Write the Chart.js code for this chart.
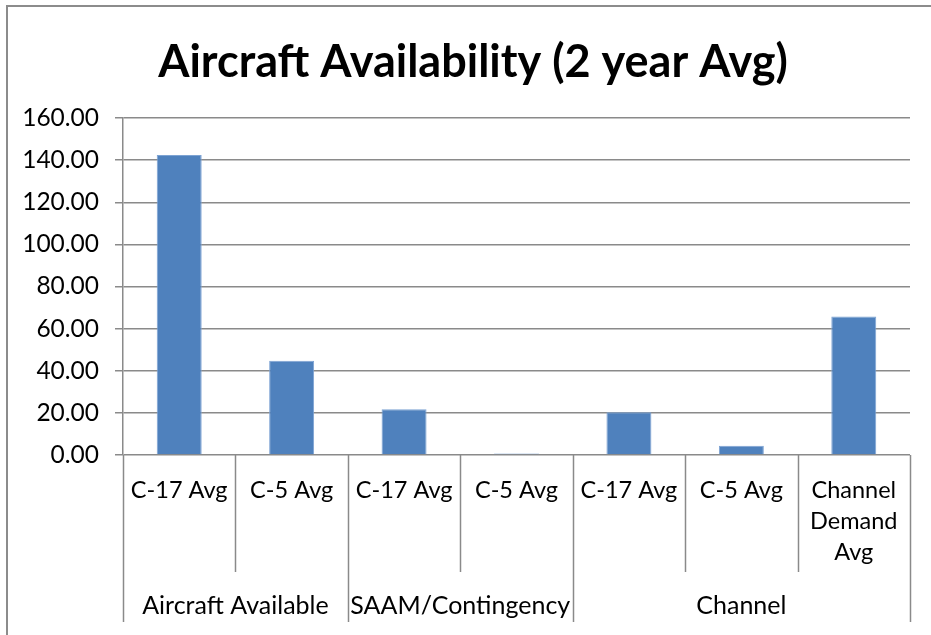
<!DOCTYPE html>
<html>
<head>
<meta charset="utf-8">
<script src="https://cdn.jsdelivr.net/npm/chart.js@4"></script>
<style>
  html, body { margin: 0; padding: 0; background: #fff; overflow: hidden; }
  #wrap { width: 931px; height: 635px; }
</style>
</head>
<body>
<div id="wrap"><canvas id="chart" width="931" height="635"></canvas></div>
<script>
// Datos del gráfico
const chartTitle = 'Aircraft Availability (2 year Avg)';
const groupLabels = ['Aircraft Available', 'SAAM/Contingency', 'Channel'];
const groupSizes = [2, 2, 3];
const barLabels = ['C-17 Avg', 'C-5 Avg', 'C-17 Avg', 'C-5 Avg', 'C-17 Avg', 'C-5 Avg', ['Channel', 'Demand', 'Avg']];
const availability = [142.4, 44.7, 21.7, 0.7, 20.3, 4.4, 65.8];
const yMin = 0;
const yMax = 160;
const yStep = 20;

const gridColor = '#8a8a8a';
const fontFamily = 'Lato, "Open Sans", sans-serif';

// Marco, título, separadores y etiquetas de grupo del eje X
const groupAxisPlugin = {
    id: 'groupAxis',
    beforeDraw(chart) {
        const ctx = chart.ctx;
        ctx.save();
        ctx.strokeStyle = '#8c8c8c';
        ctx.lineWidth = 2;
        ctx.beginPath();
        ctx.moveTo(7, 640);
        ctx.lineTo(7, 6);
        ctx.lineTo(935, 6);
        ctx.stroke();
        ctx.restore();
    },
    afterDraw(chart) {
        const ctx = chart.ctx;
        const x = chart.scales.x;
        const bottom = chart.chartArea.bottom;
        const half = (x.getPixelForValue(1) - x.getPixelForValue(0)) / 2;

        // título
        ctx.save();
        ctx.fillStyle = '#000';
        ctx.font = 'bold 45px ' + fontFamily;
        ctx.textAlign = 'center';
        ctx.textBaseline = 'middle';
        ctx.fillText(chartTitle, 473, 62);
        ctx.restore();

        // límites de grupo
        const groupEdges = [0];
        groupSizes.forEach(s => groupEdges.push(groupEdges[groupEdges.length - 1] + s));

        ctx.save();
        ctx.strokeStyle = gridColor;
        ctx.lineWidth = 1.5;
        for (let i = 0; i <= barLabels.length; i++) {
            const px = Math.round(x.getPixelForValue(i) - half) + 0.5;
            const isGroup = groupEdges.includes(i);
            ctx.beginPath();
            ctx.moveTo(px, bottom);
            ctx.lineTo(px, bottom + (isGroup ? 167 : 117));
            ctx.stroke();
        }

        ctx.fillStyle = '#000';
        ctx.font = '25px ' + fontFamily;
        ctx.textAlign = 'center';
        ctx.textBaseline = 'middle';
        for (let g = 0; g < groupLabels.length; g++) {
            const left = x.getPixelForValue(groupEdges[g]) - half;
            const right = x.getPixelForValue(groupEdges[g + 1]) - half;
            ctx.fillText(groupLabels[g], (left + right) / 2, bottom + 151);
        }
        ctx.restore();
    }
};

const ctx = document.getElementById('chart').getContext('2d');
const myChart = new Chart(ctx, {
    type: 'bar',
    data: {
        labels: barLabels,
        datasets: [{
            label: 'Aircraft Availability',
            data: availability,
            backgroundColor: '#4f81bd',
            borderColor: '#7da3d3',
            borderWidth: 1,
            categoryPercentage: 1,
            barPercentage: 0.4
        }]
    },
    options: {
        responsive: false,
        animation: false,
        layout: {
            padding: { top: 118, left: 8, right: 21, bottom: 66 }
        },
        plugins: {
            legend: { display: false },
            tooltip: { enabled: false },
            title: { display: false }
        },
        scales: {
            x: {
                afterFit(scale) { scale.height = 114; },
                grid: { display: false, drawTicks: false },
                border: { display: false },
                ticks: {
                    color: '#000',
                    font: { family: fontFamily, size: 23.5, lineHeight: 1.32 },
                    padding: 20,
                    maxRotation: 0,
                    autoSkip: false
                }
            },
            y: {
                min: yMin,
                max: yMax,
                afterFit(scale) { scale.width = 115; },
                grid: { color: gridColor, lineWidth: 1.5, tickLength: 8 },
                border: { color: gridColor, width: 1.5 },
                ticks: {
                    stepSize: yStep,
                    color: '#000',
                    padding: 16,
                    font: { family: fontFamily, size: 24.5 },
                    callback: v => v.toFixed(2)
                }
            }
        }
    },
    plugins: [groupAxisPlugin]
});
</script>
</body>
</html>
